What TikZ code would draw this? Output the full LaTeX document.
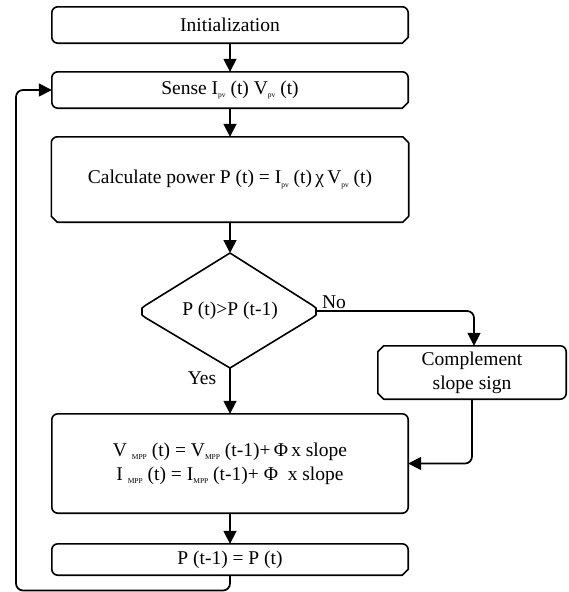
\documentclass[tikz,border=0pt]{standalone}
\usepackage{fontspec}
\setmainfont{Liberation Serif}
\usetikzlibrary{arrows.meta,calc}
\newcommand\sbs[1]{\raisebox{-3.5pt}{\fontsize{7.5}{7.5}\selectfont #1}}
\def\crad{6}
\newcommand\shp[5]{%
 \draw[boxline] ($(#1.north west)+(\crad,0)$) -- ($(#1.north east)+(-\crad,0)$)
 \ifx r#2 arc[start angle=90,end angle=0,radius=\crad]\else -- ++(\crad,-\crad)\fi
 -- ($(#1.south east)+(0,\crad)$)
 \ifx r#3 arc[start angle=0,end angle=-90,radius=\crad]\else -- ++(-\crad,-\crad)\fi
 -- ($(#1.south west)+(\crad,0)$)
 \ifx r#4 arc[start angle=-90,end angle=-180,radius=\crad]\else -- ++(-\crad,\crad)\fi
 -- ($(#1.north west)+(0,-\crad)$)
 \ifx r#5 arc[start angle=180,end angle=90,radius=\crad]\else -- ++(\crad,\crad)\fi
 -- cycle;}
\tikzset{
 box/.style={inner sep=0pt, align=center, font=\fontsize{19.5}{24}\selectfont},
 lbl/.style={inner sep=0pt, font=\fontsize{19.5}{24}\selectfont},
 boxline/.style={line width=1.6pt, line join=round},
 arr/.style={line width=1.7pt, -{Triangle[width=13pt,length=13pt]}},
}
\begin{document}
\begin{tikzpicture}[x=1pt,y=1pt]
\useasboundingbox (0,0) rectangle (569,-592);
\node[box, minimum width=356pt, minimum height=36pt] (init) at (230,-25) {Initialization};
\node[box, minimum width=356pt, minimum height=36pt] (sense) at (230,-90) {Sense I\sbs{pv} (t) V\sbs{pv} (t)};
\node[box, minimum width=357pt, minimum height=85pt] (calc) at (230,-179.5) {Calculate power P (t) = I\sbs{pv} (t)\,χ\,V\sbs{pv} (t)};
\node[box] (dec) at (230,-311) {P (t)>P (t-1)};
\coordinate (dtop) at (230,-253);
\coordinate (dbot) at (230,-368);
\coordinate (dright) at (316,-311);
\coordinate (dleft) at (142,-311);
\node[box, minimum width=188pt, minimum height=53pt] (comp) at (472,-372.5) {Complement\\slope sign};
\node[box, minimum width=356pt, minimum height=99pt] (vbox) at (230,-463.5) {V \sbs{MPP} (t) = V\sbs{MPP} (t-1)+\,Φ\,x slope\\I \sbs{MPP} (t) = I\sbs{MPP} (t-1)+ Φ\enspace x slope};
\node[box, minimum width=356pt, minimum height=31pt] (pbox) at (230,-559.5) {P (t-1) = P (t)};
\coordinate (loopL) at (16,-590.5);
% shapes
\shp{init}{r}{c}{r}{r}
\shp{sense}{r}{c}{r}{r}
\shp{calc}{c}{c}{c}{r}
\shp{comp}{r}{r}{c}{c}
\shp{vbox}{r}{r}{r}{r}
\shp{pbox}{r}{c}{r}{r}
\draw[boxline] (dtop) -- ($(dright)+(-4,6)$) -- ($(dright)+(0,3)$) -- ($(dright)+(0,-4)$) -- ($(dright)+(-4,-7)$) -- (dbot) -- ($(dleft)+(4,-7)$) -- ($(dleft)+(0,-4)$) -- ($(dleft)+(0,3)$) -- ($(dleft)+(4,6)$) -- cycle;
% connectors
\draw[arr] (init.south) -- (sense.north);
\draw[arr] (sense.south) -- (calc.north);
\draw[arr] (calc.south) -- (dtop);
\draw[arr] (dbot) -- (vbox.north);
\draw[arr, rounded corners=7pt] (dright) -| ([xshift=2pt]comp.north);
\draw[arr, rounded corners=7pt] (comp.south) |- (vbox.east);
\draw[arr] (vbox.south) -- (pbox.north);
\draw[arr, rounded corners=7pt] (pbox.south) |- (loopL) |- (sense.west);
\node[lbl] (no) at (334,-302) {No};
\node[lbl] (yes) at (202,-378) {Yes};
\end{tikzpicture}
\end{document}
